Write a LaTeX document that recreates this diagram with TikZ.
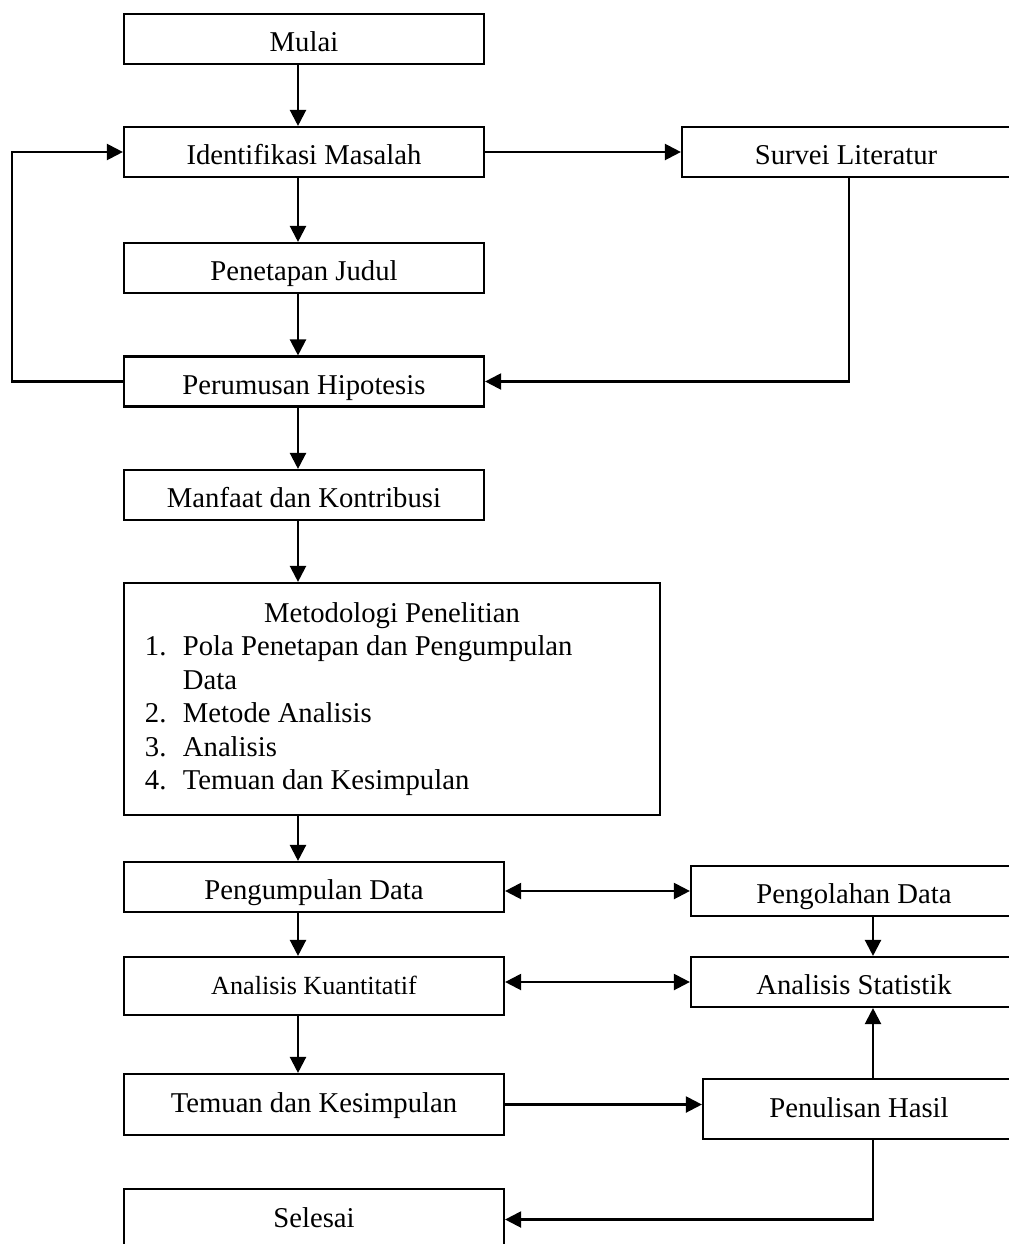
\documentclass[tikz,border=0pt]{standalone}
\usepackage{fontspec}
\setmainfont{Liberation Serif}
\usetikzlibrary{arrows.meta,positioning}

\begin{document}
\begin{tikzpicture}[
    x=0.025cm, y=-0.025cm,
    frame/.style={rectangle, draw, line width=1.5pt, inner sep=0.1cm, font=\fontsize{20.4}{23.8}\selectfont},
    box/.style={frame, minimum height=1.25cm, text height=0.7cm, text depth=0.075cm},
    tallbox/.style={box, text height=0.6cm, text depth=0.2cm},
    leftbox/.style={box, minimum width=9cm},
    widebox/.style={box, minimum width=9.5cm},
    rightbox/.style={box, minimum width=8.15cm},
    arrow/.style={-{Triangle[length=0.4cm, width=0.4cm]}, line width=1.6pt},
    twoway/.style={{Triangle[length=0.4cm, width=0.4cm]}-{Triangle[length=0.4cm, width=0.4cm]}, line width=1.6pt}
]
\useasboundingbox (0,0) rectangle (1008,1244);

% Guide lines for the connectors
\coordinate (trunk) at (298,0);
\coordinate (rtrunk) at (873,0);
\coordinate (loop) at (12,0);
\coordinate (back) at (849,0);

% Main column
\node[leftbox] (mulai) at (304,39) {Mulai};
\node[leftbox] (identifikasi) at (304,152) {Identifikasi Masalah};
\node[leftbox] (penetapan) at (304,268) {Penetapan Judul};
\node[leftbox] (perumusan) at (304,381.5) {Perumusan Hipotesis};
\node[leftbox] (manfaat) at (304,495) {Manfaat dan Kontribusi};
\node[frame, minimum width=13.4cm, minimum height=5.8cm, inner xsep=0.525cm, align=left] (metodologi) at (392,699) {
    \makebox[12.35cm][c]{Metodologi Penelitian}\\
    \makebox[0.95cm][l]{1.}Pola Penetapan dan Pengumpulan\\
    \hspace*{0.95cm}Data\\
    \makebox[0.95cm][l]{2.}Metode Analisis\\
    \makebox[0.95cm][l]{3.}Analisis\\
    \makebox[0.95cm][l]{4.}Temuan dan Kesimpulan
};
\node[widebox] (pengumpulan) at (314,887) {Pengumpulan Data};
\node[widebox, tallbox, minimum height=1.45cm, font=\fontsize{18.6}{22}\selectfont] (kuantitatif) at (314,986) {Analisis Kuantitatif};
\node[widebox, tallbox, minimum height=1.525cm] (temuan) at (314,1104.5) {Temuan dan Kesimpulan};
\node[widebox, tallbox, minimum height=1.525cm] (selesai) at (314,1219.5) {Selesai};

% Right column
\node[box, minimum width=8.2cm] (survei) at (846,152) {Survei Literatur};
\node[rightbox] (pengolahan) at (854,891) {Pengolahan Data};
\node[rightbox] (statistik) at (854,982) {Analisis Statistik};
\node[box, tallbox, minimum width=7.8cm, minimum height=1.5cm] (penulisan) at (859,1109) {Penulisan Hasil};

% Arrows down the main column
\draw[arrow] (mulai.south -| trunk) -- (identifikasi.north -| trunk);
\draw[arrow] (identifikasi.south -| trunk) -- (penetapan.north -| trunk);
\draw[arrow] (penetapan.south -| trunk) -- (perumusan.north -| trunk);
\draw[arrow] (perumusan.south -| trunk) -- (manfaat.north -| trunk);
\draw[arrow] (manfaat.south -| trunk) -- (metodologi.north -| trunk);
\draw[arrow] (metodologi.south -| trunk) -- (pengumpulan.north -| trunk);
\draw[arrow] (pengumpulan.south -| trunk) -- (kuantitatif.north -| trunk);
\draw[arrow] (kuantitatif.south -| trunk) -- (temuan.north -| trunk);

% Feedback loops
\draw[arrow] (perumusan.west) -- (perumusan.west -| loop) |- (identifikasi.west);
\draw[arrow] (identifikasi.east) -- (survei.west);
\draw[arrow] (survei.south -| back) |- (perumusan.east);

% Links to the right column
\draw[twoway] (pengolahan.west -| pengumpulan.east) -- (pengolahan.west);
\draw[twoway] (statistik.west -| kuantitatif.east) -- (statistik.west);
\draw[arrow] (pengolahan.south -| rtrunk) -- (statistik.north -| rtrunk);
\draw[arrow] (temuan.east) -- (temuan.east -| penulisan.west);
\draw[arrow] (penulisan.north -| rtrunk) -- (statistik.south -| rtrunk);
\draw[arrow] (penulisan.south -| rtrunk) |- (selesai.east);

\end{tikzpicture}
\end{document}
